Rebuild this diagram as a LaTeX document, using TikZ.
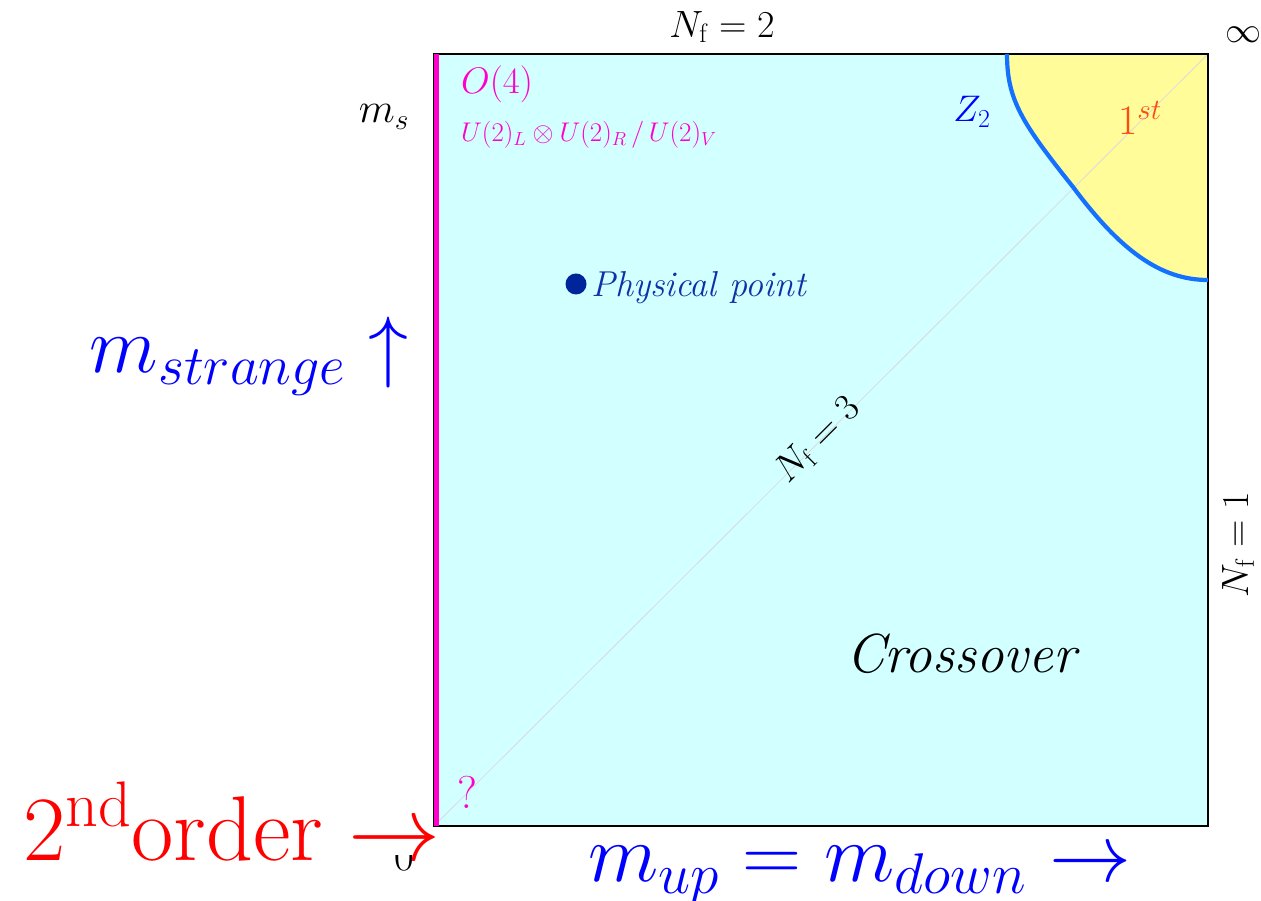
\RequirePackage{fix-cm}
\documentclass[tikz,border=0pt]{standalone}
\definecolor{regcyan}{HTML}{D2FFFF}
\definecolor{regyellow}{HTML}{FFFC99}
\definecolor{curveblue}{HTML}{1470FF}
\definecolor{magline}{HTML}{FF00CC}
\definecolor{dotblue}{HTML}{00249A}
\definecolor{ptblue}{HTML}{1030A8}
\definecolor{firstred}{HTML}{FF4A10}
\tikzset{
  lbl/.style={inner sep=0pt, font=\fontsize{38}{44}\selectfont},
  biglbl/.style={inner sep=0pt, font=\fontsize{80}{90}\selectfont},
}
\begin{document}
\begin{tikzpicture}[x=1pt,y=1pt]
\useasboundingbox (0,0) rectangle (1261,900);
% square corners
\coordinate (sw) at (434,74);
\coordinate (ne) at (1208,846);
\coordinate (nw) at (434,846);
\coordinate (se) at (1208,74);
\fill[regcyan] (sw) rectangle (ne);
% first order region
\coordinate (c0) at (1007,846);
\coordinate (c1) at (1073,713);
\coordinate (c2) at (1208,620);
\fill[regyellow] (c0) .. controls (1007,800) and (1022,777) .. (c1)
   .. controls (1120,650) and (1160,620) .. (c2) -- (ne) -- cycle;
% diagonal N_f = 3
\draw[black!14, line width=0.8pt] (sw) -- (ne);
% frame
\draw[black, line width=1.3pt] (sw) rectangle (ne);
\draw[black, line width=2pt] (nw) -- (ne);
% Z2 line
\draw[curveblue, line width=4.2pt] (c0) .. controls (1007,800) and (1022,777) .. (c1)
   .. controls (1120,650) and (1160,620) .. (c2);
% O(4) line
\draw[magline, line width=5pt] (436.5,846) -- (436.5,74);
% labels
\node[lbl] (nf2) at (722,873) {$N_{\mathrm{f}}=2$};
\node[lbl, font=\fontsize{36}{40}\selectfont] (inf) at (1243,865) {$\infty$};
\node[lbl, font=\fontsize{42}{48}\selectfont] (ms) at (384,783) {$m_s$};
\node[lbl, text=magline, anchor=west, font=\fontsize{37}{42}\selectfont] (o4) at (461,816) {$O(4)$};
\node[inner sep=0pt, text=magline, anchor=west, font=\fontsize{27}{32}\selectfont] (sym) at (461,765) {$U(2)_L\otimes U(2)_R\,/\,U(2)_V$};
\node[lbl, text=blue, font=\fontsize{37}{42}\selectfont] (z2) at (972,788) {$Z_2$};
\node[lbl, text=firstred, font=\fontsize{42}{48}\selectfont] (first) at (1140,782) {$1^{st}$};
\fill[dotblue] (576,616) circle (10.5) coordinate (pp);
\node[lbl, text=ptblue, anchor=west, font=\fontsize{36}{42}\selectfont] (ppl) at (591,612) {\textit{Physical point}};
\node[biglbl, text=blue, anchor=base] (mstr) at (249,527) {$m_{strange}\uparrow$};
\node[lbl, rotate=45] (nf3) at (818,460) {$N_{\mathrm{f}}=3$};
\node[lbl, rotate=90] (nf1) at (1238,355) {$N_{\mathrm{f}}=1$};
\node[inner sep=0pt, font=\fontsize{55}{62}\selectfont] (cross) at (963,246) {\textit{Crossover}};
\node[lbl, text=magline, font=\fontsize{46}{52}\selectfont] (q) at (467,108) {?};
\begin{scope}
\clip (380,0) rectangle (430,45);
\node[lbl, anchor=base, font=\fontsize{44}{50}\selectfont] (zero) at (404,30) {$0$};
\end{scope}
\node[biglbl, text=red, anchor=base east, font=\fontsize{92}{100}\selectfont] (second) at (441,40) {$2^{\mathrm{nd}}\mathrm{order}\rightarrow$};
\node[biglbl, text=blue, anchor=base, font=\fontsize{82}{90}\selectfont] (mud) at (860,19) {$m_{up}=m_{down}\rightarrow$};
\end{tikzpicture}
\end{document}
